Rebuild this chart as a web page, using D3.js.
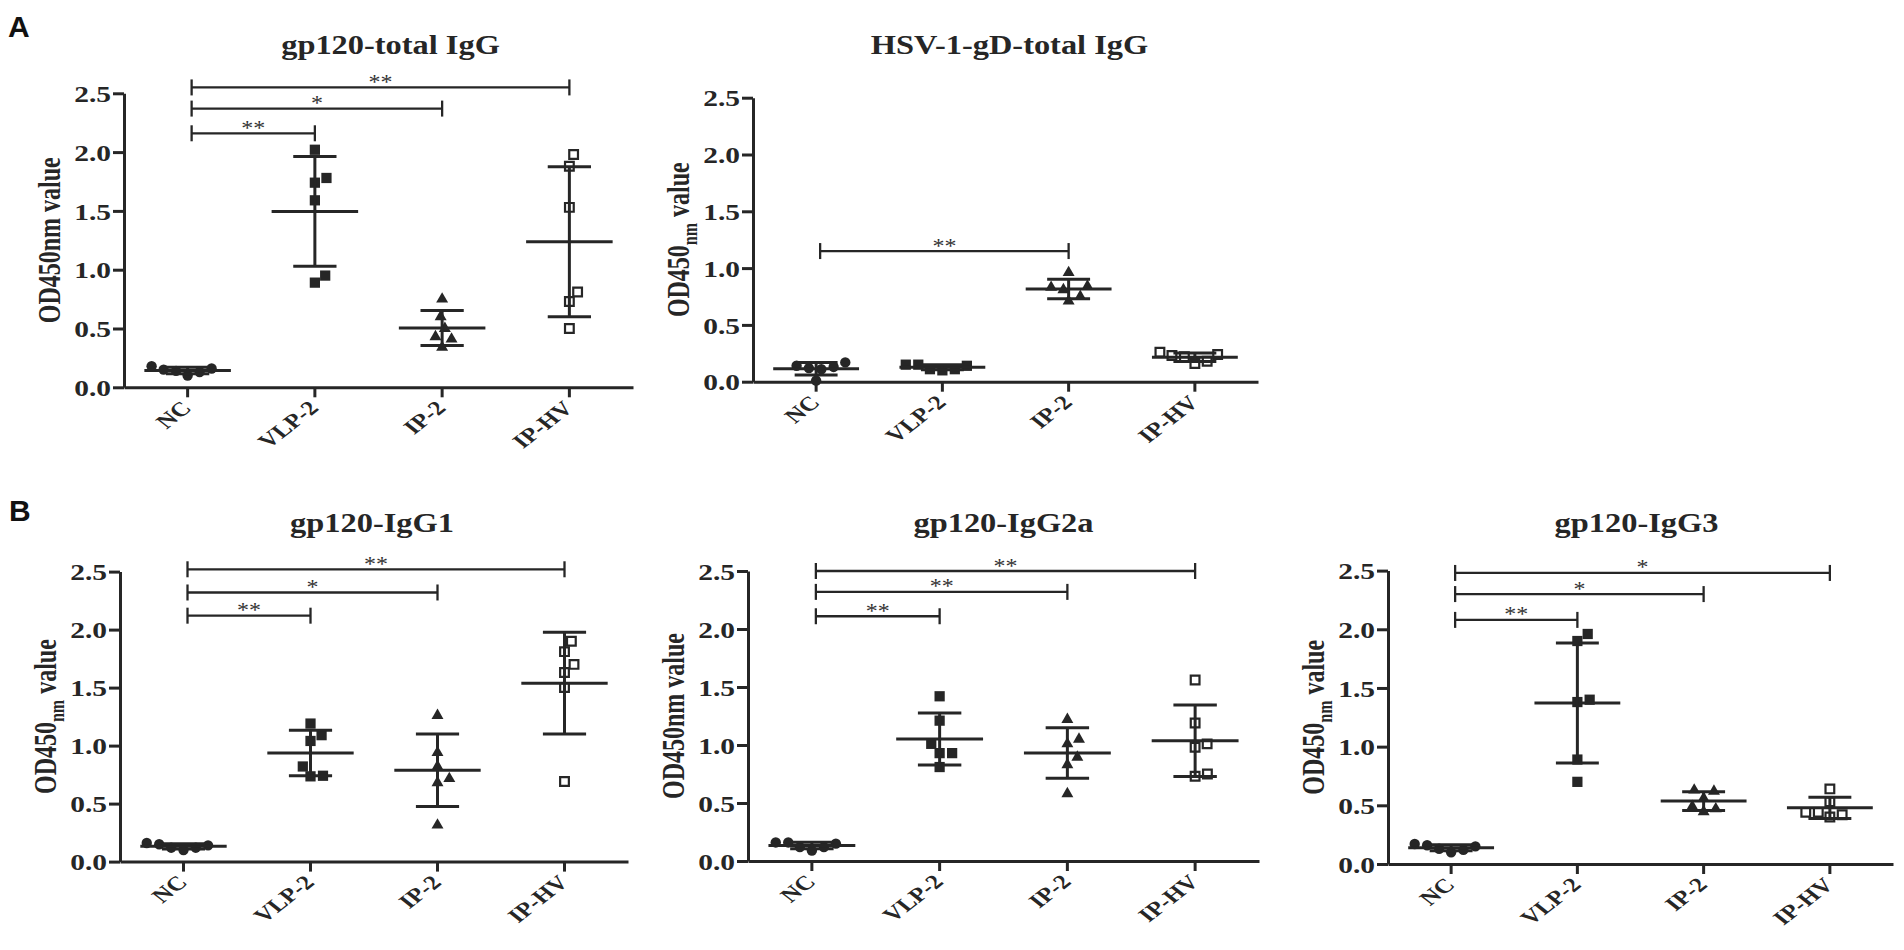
<!DOCTYPE html>
<html>
<head>
<meta charset="utf-8">
<script src="https://cdn.jsdelivr.net/npm/d3@7"></script>
<style>
  body { margin: 0; background: #fff; }
  svg { display: block; }
</style>
</head>
<body>
<svg id="fig" width="1904" height="950"></svg>
<script>
// groups on every x axis, y ticks shared by all five panels
const groups = ["NC", "VLP-2", "IP-2", "IP-HV"];
const yTicks = [0, 0.5, 1.0, 1.5, 2.0, 2.5];

// OD450 per mouse, one row per group (NC, VLP-2, IP-2, IP-HV)
const gp120Total = [
  [0.16, 0.14, 0.10, 0.18, 0.13, 0.15],
  [2.02, 1.78, 1.74, 1.59, 0.95, 0.89],
  [0.75, 0.60, 0.50, 0.43, 0.41, 0.34],
  [1.98, 1.88, 1.53, 0.81, 0.73, 0.50]
];
const hsvTotal = [
  [0.17, 0.12, 0.13, 0.14, 0.11, 0.01],
  [0.15, 0.11, 0.10, 0.15, 0.11, 0.14],
  [0.96, 0.84, 0.81, 0.83, 0.75, 0.71],
  [0.24, 0.22, 0.26, 0.16, 0.18, 0.23]
];
const gp120IgG1 = [
  [0.15, 0.12, 0.10, 0.16, 0.12, 0.14],
  [1.19, 1.09, 1.04, 0.82, 0.735, 0.74],
  [1.26, 0.94, 0.82, 0.715, 0.68, 0.315],
  [1.90, 1.81, 1.70, 1.63, 1.50, 0.69]
];
const gp120IgG2a = [
  [0.16, 0.12, 0.09, 0.16, 0.12, 0.15],
  [1.42, 1.21, 1.01, 0.93, 0.93, 0.81],
  [1.22, 1.05, 1.01, 0.895, 0.83, 0.58],
  [1.56, 1.19, 1.01, 0.98, 0.73, 0.75]
];
const gp120IgG3 = [
  [0.16, 0.13, 0.10, 0.17, 0.12, 0.15],
  [1.96, 1.90, 1.38, 1.40, 0.89, 0.70],
  [0.63, 0.62, 0.56, 0.49, 0.47, 0.445],
  [0.64, 0.53, 0.44, 0.40, 0.42, 0.44]
];

// significance vs NC: [group, bracket level (OD), stars]
const sigTotal = [["VLP-2", 2.16, "**"], ["IP-2", 2.37, "*"], ["IP-HV", 2.55, "**"]];
const sigHsv = [["IP-2", 1.15, "**"]];
const sigIgG1 = [["VLP-2", 2.12, "**"], ["IP-2", 2.32, "*"], ["IP-HV", 2.52, "**"]];
const sigIgG2a = [["VLP-2", 2.11, "**"], ["IP-2", 2.32, "**"], ["IP-HV", 2.50, "**"]];
const sigIgG3 = [["VLP-2", 2.08, "**"], ["IP-2", 2.30, "*"], ["IP-HV", 2.48, "*"]];

const panels = [
  { title: "gp120-total IgG", data: gp120Total, sig: sigTotal, sub: false,
    left: 124, width: 509, top: 93.3, bottom: 387.3, titleY: 54, titleDx: 12 },
  { title: "HSV-1-gD-total IgG", data: hsvTotal, sig: sigHsv, sub: true,
    left: 753, width: 505, top: 97.7, bottom: 381.7, titleY: 54, titleDx: 4 },
  { title: "gp120-IgG1", data: gp120IgG1, sig: sigIgG1, sub: true,
    left: 120, width: 508, top: 571.6, bottom: 861.6, titleY: 532, titleDx: -2 },
  { title: "gp120-IgG2a", data: gp120IgG2a, sig: sigIgG2a, sub: false,
    left: 748, width: 511, top: 571, bottom: 861, titleY: 532, titleDx: 0 },
  { title: "gp120-IgG3", data: gp120IgG3, sig: sigIgG3, sub: true,
    left: 1388, width: 505, top: 570.6, bottom: 864, titleY: 532, titleDx: -4 }
];

const ink = "#262626";
const serif = "'Liberation Serif', 'Times New Roman', serif";
const stretch = 1.28; // the source figure is a little wider than tall

const svg = d3.select("#fig");

const symbols = [
  d3.symbol(d3.symbolCircle, 85),
  d3.symbol(d3.symbolSquare, 105),
  d3.symbol(d3.symbolTriangle, 62),
  d3.symbol(d3.symbolSquare, 76)
];

// simple beeswarm: lowest value first, nudge sideways until it fits
function swarm(values, y, gap) {
  const order = d3.range(values.length).sort((a, b) => values[a] - values[b]);
  const placed = [];
  const out = [];
  for (const i of order) {
    const py = y(values[i]);
    const cands = [0];
    for (const p of placed) {
      const dy = Math.abs(p.y - py);
      if (dy < gap) {
        const dx = Math.sqrt(gap * gap - dy * dy);
        cands.push(p.x + dx, p.x - dx);
      }
    }
    cands.sort((a, b) => Math.abs(a) - Math.abs(b) || b - a);
    const px = cands.find((c) =>
      placed.every((p) => (p.x - c) ** 2 + (p.y - py) ** 2 >= gap * gap - 0.01)
    );
    placed.push({ x: px, y: py });
    out.push({ dx: px, y: py });
  }
  return out;
}

function drawPanel(p) {
  const g = svg.append("g");
  const x = d3.scaleBand().domain(groups).range([p.left, p.left + p.width]);
  const y = d3.scaleLinear().domain([0, 2.5]).range([p.bottom, p.top]);
  const bw = x.bandwidth();
  const cx = (d) => x(d) + bw / 2;

  // title
  g.append("text")
    .attr("transform", `translate(${p.left + p.width / 2 + p.titleDx},${p.titleY}) scale(1.2,1)`)
    .attr("text-anchor", "middle")
    .attr("font-family", serif)
    .attr("font-weight", "bold")
    .attr("font-size", 27)
    .attr("fill", ink)
    .text(p.title);

  // y axis
  g.append("g")
    .attr("transform", `translate(${p.left},0)`)
    .call(
      d3.axisLeft(y).tickValues(yTicks).tickSize(11).tickSizeOuter(0)
        .tickFormat(d3.format(".1f"))
    )
    .call((a) => a.selectAll("path, line").attr("stroke", ink).attr("stroke-width", 3))
    .call((a) =>
      a.selectAll("text")
        .attr("x", -13 / stretch)
        .attr("dy", "0.36em")
        .attr("transform", `scale(${stretch},1)`)
        .attr("font-family", serif)
        .attr("font-weight", "bold")
        .attr("font-size", 23)
        .attr("fill", ink)
    );

  // x axis
  g.append("g")
    .attr("transform", `translate(0,${p.bottom})`)
    .call(d3.axisBottom(x).tickSize(10).tickSizeOuter(0))
    .call((a) => a.selectAll("path, line").attr("stroke", ink).attr("stroke-width", 3))
    .call((a) =>
      a.selectAll("text")
        .attr("x", null)
        .attr("y", null)
        .attr("dy", null)
        .attr("text-anchor", "end")
        .attr("transform", `translate(5,22) scale(${stretch},1) rotate(-45)`)
        .attr("font-family", serif)
        .attr("font-weight", "bold")
        .attr("font-size", 20)
        .attr("fill", ink)
    );

  // y axis title
  const yl = g.append("text")
    .attr("transform", `translate(${p.left - 64},${(p.top + p.bottom) / 2}) scale(${stretch},1) rotate(-90)`)
    .attr("text-anchor", "middle")
    .attr("font-family", serif)
    .attr("font-weight", "bold")
    .attr("font-size", 24)
    .attr("fill", ink);
  if (p.sub) {
    yl.append("tspan").text("OD450");
    yl.append("tspan").attr("font-size", 16).attr("dy", 6).text("nm");
    yl.append("tspan").attr("dy", -6).text(" value");
  } else {
    yl.text("OD450nm value");
  }

  // points, then mean and SD on top
  p.data.forEach((vals, gi) => {
    const c = cx(groups[gi]);
    const pts = swarm(vals, y, 12.5);
    g.append("g")
      .selectAll("path")
      .data(pts)
      .join("path")
      .attr("transform", (d) => `translate(${c + d.dx},${d.y})`)
      .attr("d", symbols[gi])
      .attr("fill", gi === 3 ? "none" : ink)
      .attr("stroke", gi === 3 ? ink : "none")
      .attr("stroke-width", 2.2);

    const m = d3.mean(vals);
    const sd = d3.deviation(vals);
    const eb = g.append("g").attr("stroke", ink).attr("stroke-width", 3);
    eb.append("line")
      .attr("x1", c - bw * 0.34).attr("x2", c + bw * 0.34)
      .attr("y1", y(m)).attr("y2", y(m));
    eb.append("line")
      .attr("x1", c).attr("x2", c)
      .attr("y1", y(m - sd)).attr("y2", y(m + sd));
    [m - sd, m + sd].forEach((v) =>
      eb.append("line")
        .attr("x1", c - bw * 0.17).attr("x2", c + bw * 0.17)
        .attr("y1", y(v)).attr("y2", y(v))
    );
  });

  // significance brackets from NC
  const x0 = cx("NC") + 4;
  p.sig.forEach(([to, level, stars]) => {
    const x1 = cx(to);
    const ly = y(level);
    const b = g.append("g").attr("stroke", ink).attr("stroke-width", 2.3);
    b.append("line").attr("x1", x0).attr("x2", x1).attr("y1", ly).attr("y2", ly);
    b.append("line").attr("x1", x0).attr("x2", x0).attr("y1", ly - 8).attr("y2", ly + 8);
    b.append("line").attr("x1", x1).attr("x2", x1).attr("y1", ly - 8).attr("y2", ly + 8);
    g.append("text")
      .attr("transform", `translate(${(x0 + x1) / 2},${ly + 1.5}) scale(1.2,1)`)
      .attr("text-anchor", "middle")
      .attr("font-family", serif)
      .attr("font-size", 20)
      .attr("fill", "#333")
      .text(stars);
  });
}

panels.forEach(drawPanel);

// panel letters
[["A", 8, 37], ["B", 9, 521]].forEach(([t, lx, ly]) =>
  svg.append("text")
    .attr("x", lx).attr("y", ly)
    .attr("font-family", "'Liberation Sans', Arial, sans-serif")
    .attr("font-weight", "bold")
    .attr("font-size", 30)
    .attr("fill", "#111")
    .text(t)
);
</script>
</body>
</html>
